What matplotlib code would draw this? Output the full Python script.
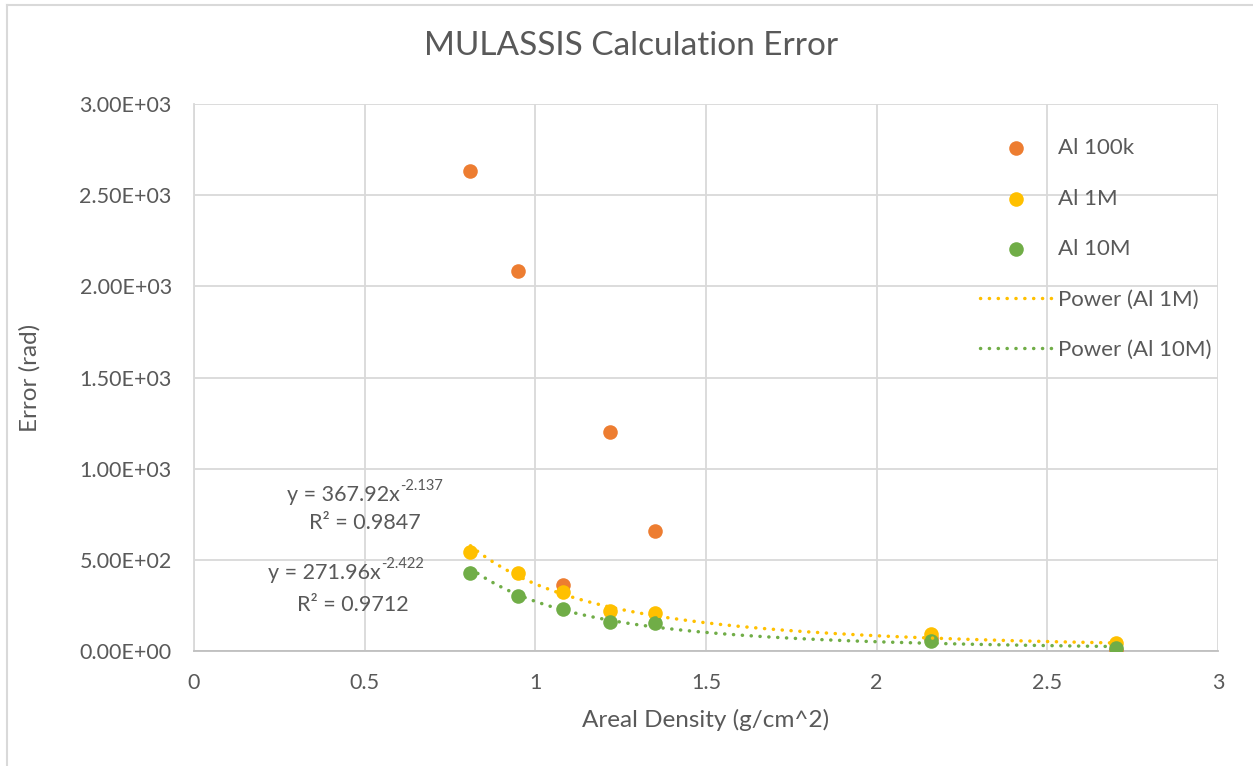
import numpy as np
import matplotlib
matplotlib.use("Agg")
import matplotlib.pyplot as plt
from matplotlib.ticker import FuncFormatter, MultipleLocator
from matplotlib.lines import Line2D

# areal density (g/cm^2) and calculation error (rad) per run size
density_100k = [0.81, 0.95, 1.08, 1.22, 1.35, 2.16, 2.70]
error_100k = [2635, 2085, 360, 1200, 658, 70, 5]

density_1m = [0.81, 0.95, 1.08, 1.22, 1.35, 2.16, 2.70]
error_1m = [545, 429, 325, 221, 210, 95, 42]

density_10m = [0.81, 0.95, 1.08, 1.22, 1.35, 2.16, 2.70]
error_10m = [426, 302, 228, 161, 152, 55, 18]

# power trendline coefficients y = a * x^b, with R^2
fit_1m = (367.92, -2.137, 0.9847)
fit_10m = (271.96, -2.422, 0.9712)

ORANGE = "#ED7D31"
YELLOW = "#FFC000"
GREEN = "#70AD47"
TEXT = "#595959"

plt.rcParams["font.family"] = ["Lato", "DejaVu Sans"]

W, H = 1253, 766
fig = plt.figure(figsize=(W / 100, H / 100), dpi=100)
ax = fig.add_axes([194 / W, 1 - 651 / H, (1218 - 194) / W, (651 - 104) / H])

# light outer chart border
fig.add_artist(Line2D([7 / W, 7 / W], [0, 1 - 5 / H], transform=fig.transFigure,
                      color="#D9D9D9", lw=1.5))
fig.add_artist(Line2D([7 / W, 1252 / W], [1 - 5 / H, 1 - 5 / H], transform=fig.transFigure,
                      color="#D9D9D9", lw=1.5))

ms = 110
ax.scatter(density_100k, error_100k, s=ms, color=ORANGE, zorder=3, label="Al 100k", linewidths=0)
ax.scatter(density_1m, error_1m, s=ms, color=YELLOW, zorder=4, label="Al 1M", linewidths=0)
ax.scatter(density_10m, error_10m, s=ms, color=GREEN, zorder=5, label="Al 10M", linewidths=0)

dots = (0, (0.05, 2.5))
for dens, fit, col, name in [(density_1m, fit_1m, YELLOW, "Power (Al 1M)"),
                             (density_10m, fit_10m, GREEN, "Power (Al 10M)")]:
    xs = np.linspace(min(dens), max(dens), 300)
    a, b, _ = fit
    ax.plot(xs, a * xs ** b, color=col, lw=2.5, linestyle=dots, dash_capstyle="round",
            zorder=6, label=name)


def equation(fit, x_right, y_eq, x_r2, y_r2):
    # "y = a x" with a raised exponent, then the R² line below
    a, b, r2 = fit
    t = ax.text(x_right, y_eq, "y = %.2fx" % a, ha="right", va="center",
                fontsize=15.5, color=TEXT)
    ax.annotate("%.3f" % b, xy=(1.0, 0.62), xycoords=t, ha="left", va="bottom",
                fontsize=10.5, color=TEXT)
    ax.text(x_r2, y_r2, "R² = %.4f" % r2, ha="center", va="center",
            fontsize=15.5, color=TEXT)


equation(fit_1m, 0.603, 856, 0.501, 702)
equation(fit_10m, 0.548, 428, 0.466, 252)

ax.set_xlim(0, 3)
ax.set_ylim(0, 3000)
ax.xaxis.set_major_locator(MultipleLocator(0.5))
ax.yaxis.set_major_locator(MultipleLocator(500))
ax.xaxis.set_major_formatter(FuncFormatter(lambda v, p: "%g" % v))
ax.yaxis.set_major_formatter(FuncFormatter(lambda v, p: "%.2E" % v))
ax.tick_params(length=0, pad=16, labelsize=15.5, labelcolor=TEXT)

ax.grid(True, color="#D9D9D9", lw=1.3)
ax.set_axisbelow(True)
for side in ["top", "right"]:
    ax.spines[side].set_visible(False)
ax.spines["left"].set_color("#D9D9D9")
ax.spines["left"].set_linewidth(1.3)
ax.spines["bottom"].set_color("#BFBFBF")
ax.spines["bottom"].set_linewidth(1.3)

fig.text(631 / W, 1 - 46 / H, "MULASSIS Calculation Error", ha="center", va="center",
         fontsize=24, color=TEXT)
fig.text(706 / W, 1 - 720 / H, "Areal Density (g/cm^2)", ha="center", va="center",
         fontsize=17.5, color=TEXT)
fig.text(30 / W, 1 - 378 / H, "Error (rad)", ha="center", va="center", rotation=90,
         fontsize=17.5, color=TEXT)

leg = ax.legend(loc="upper left", bbox_to_anchor=((969 - 194) / 1024, 1 - (127 - 104) / 547),
                frameon=False, fontsize=16, labelcolor=TEXT, handlelength=3.2,
                handletextpad=0.3, labelspacing=1.37, borderpad=0, scatterpoints=1)

fig.savefig("out.png", dpi=100)
